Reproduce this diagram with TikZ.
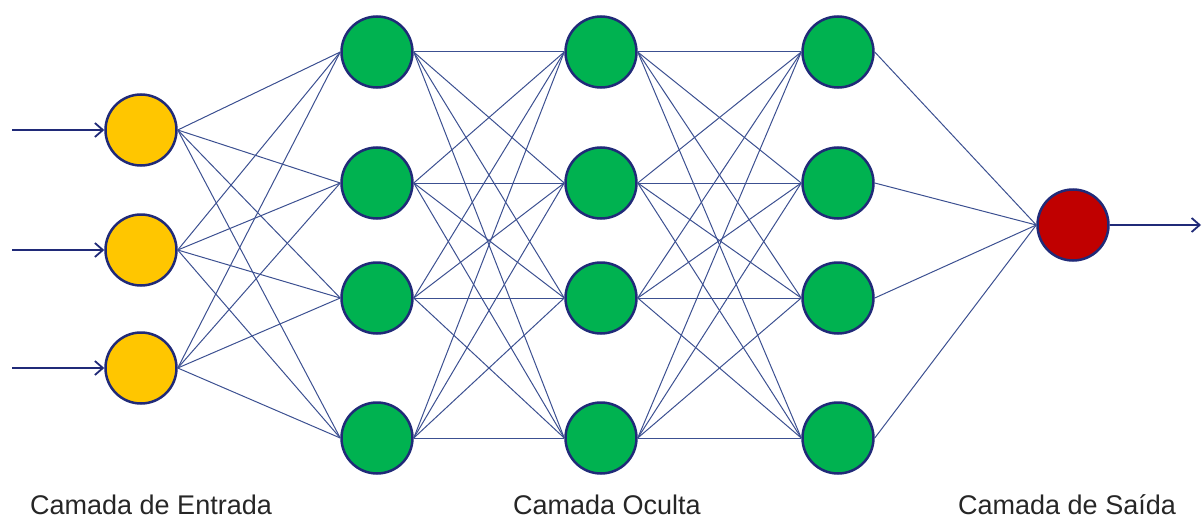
\documentclass[tikz,border=0pt]{standalone}
\usepackage{fontspec}
\setmainfont{Liberation Sans}
\usetikzlibrary{arrows.meta}
\definecolor{navy}{RGB}{32,42,120}
\definecolor{wire}{RGB}{60,80,145}
\definecolor{inyellow}{RGB}{255,198,0}
\definecolor{hidgreen}{RGB}{0,178,80}
\definecolor{outred}{RGB}{192,0,0}
\tikzset{
  neuron/.style={circle, draw=navy, line width=2.5pt, minimum size=71pt, inner sep=0pt},
  inneuron/.style={neuron, fill=inyellow},
  hidneuron/.style={neuron, fill=hidgreen},
  outneuron/.style={neuron, fill=outred},
  wireline/.style={draw=wire, line width=1pt},
  signal/.style={draw=navy, line width=2.3pt, -{Straight Barb[length=8pt,width=14pt,line width=1.8pt]}},
  caption/.style={font=\fontsize{27}{31}\selectfont, text=black!85, anchor=base west, inner sep=0pt}
}
\begin{document}
\begin{tikzpicture}[x=1pt,y=-1pt]
  \useasboundingbox (0,0) rectangle (1202,519);
  % layers
  \foreach \i/\y in {1/130,2/250,3/368}
    \node[inneuron] (i\i) at (141,\y) {};
  \foreach \i/\y in {1/52,2/183,3/298,4/438} {
    \node[hidneuron] (a\i) at (377,\y) {};
    \node[hidneuron] (b\i) at (601,\y) {};
    \node[hidneuron] (c\i) at (838,\y) {};
  }
  \node[outneuron] (o) at (1073,225) {};
  % connections between layers
  \foreach \i in {1,2,3}
    \foreach \j in {1,2,3,4}
      \draw[wireline] (i\i.east) -- (a\j.west);
  \foreach \i in {1,2,3,4}
    \foreach \j in {1,2,3,4} {
      \draw[wireline] (a\i.east) -- (b\j.west);
      \draw[wireline] (b\i.east) -- (c\j.west);
    }
  \foreach \i in {1,2,3,4}
    \draw[wireline] (c\i.east) -- (o.west);
  % input and output signals
  \foreach \i/\y in {1/130,2/250,3/368} {
    \coordinate (s\i) at (12,\y);
    \draw[signal] (s\i) -- (i\i.west);
  }
  \coordinate (out) at (1201,225);
  \draw[signal] (o.east) -- (out);
  % layer captions
  \node[caption] (l1) at (30,514) {Camada de Entrada};
  \node[caption] (l2) at (513,514) {Camada Oculta};
  \node[caption] (l3) at (958,514) {Camada de Saída};
\end{tikzpicture}
\end{document}
